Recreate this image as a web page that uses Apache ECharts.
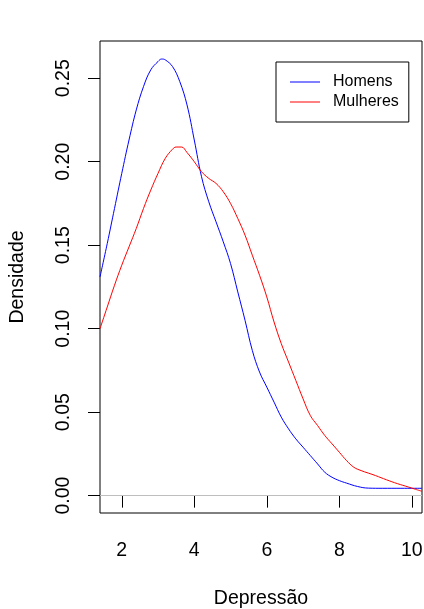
<!DOCTYPE html>
<html>
<head>
<meta charset="utf-8">
<script src="https://cdn.jsdelivr.net/npm/echarts@6/dist/echarts.min.js"></script>
<style>
  html, body { margin: 0; padding: 0; background: #fff; }
  #chart { width: 424px; height: 609px; }
</style>
</head>
<body>
<div id="chart"></div>
<script>
// Kernel density estimates of depression scores by sex
const seriesNames = ['Homens', 'Mulheres'];
const seriesColors = ['#0000FF', '#FF0000'];

// Homens: [depression score, density]
const homensX = [1.40, 1.60, 1.80, 2.00, 2.20, 2.40, 2.60, 2.80, 3.00, 3.10, 3.20, 3.40, 3.60, 3.80, 4.00, 4.20, 4.40, 4.60, 4.80, 5.00, 5.20, 5.40, 5.60, 5.80, 6.00, 6.20, 6.40, 6.60, 6.80, 7.00, 7.20, 7.40, 7.60, 7.80, 8.00, 8.20, 8.50, 8.80, 9.20, 9.70, 10.28];
const homensY = [0.131, 0.151, 0.172, 0.193, 0.213, 0.231, 0.245, 0.255, 0.2600, 0.2615, 0.2610, 0.257, 0.248, 0.234, 0.213, 0.191, 0.176, 0.164, 0.152, 0.139, 0.122, 0.105, 0.087, 0.074, 0.065, 0.056, 0.047, 0.040, 0.034, 0.029, 0.024, 0.019, 0.014, 0.011, 0.009, 0.0075, 0.0055, 0.0045, 0.0044, 0.0044, 0.0044];

// Mulheres: [depression score, density]
const mulheresX = [1.40, 1.60, 1.80, 2.00, 2.20, 2.40, 2.60, 2.80, 3.00, 3.20, 3.40, 3.50, 3.65, 3.80, 4.00, 4.20, 4.40, 4.60, 4.80, 5.00, 5.20, 5.40, 5.60, 5.80, 6.00, 6.20, 6.40, 6.60, 6.80, 7.00, 7.20, 7.40, 7.60, 7.80, 8.00, 8.20, 8.40, 8.60, 8.80, 9.00, 9.30, 9.60, 9.90, 10.10, 10.28];
const mulheresY = [0.100, 0.113, 0.126, 0.138, 0.149, 0.160, 0.172, 0.183, 0.193, 0.202, 0.2075, 0.2088, 0.2088, 0.2055, 0.200, 0.194, 0.190, 0.187, 0.182, 0.175, 0.166, 0.156, 0.144, 0.132, 0.119, 0.104, 0.091, 0.080, 0.069, 0.058, 0.048, 0.042, 0.036, 0.031, 0.026, 0.021, 0.017, 0.0150, 0.0135, 0.012, 0.0095, 0.0072, 0.0052, 0.0038, 0.0026];

// Axis ticks
const xTicks = [2, 4, 6, 8, 10];
const yTicks = [0, 0.05, 0.10, 0.15, 0.20, 0.25];

const xTitle = 'Depressão';
const yTitle = 'Densidade';

const FONT = 'Liberation Sans, Arial, sans-serif';

const zip = (xs, ys) => xs.map((x, i) => [x, ys[i]]);

const chart = echarts.init(document.getElementById('chart'), null, { renderer: 'canvas' });

chart.setOption({
  backgroundColor: '#ffffff',
  animation: false,
  grid: {
    left: 100, right: 2, top: 41, bottom: 96,
    outerBoundsMode: 'none', containLabel: false,
    show: true, borderColor: '#000', borderWidth: 1, backgroundColor: 'transparent'
  },
  legend: {
    orient: 'vertical',
    left: 276, top: 62,
    data: seriesNames,
    icon: 'rect',
    itemWidth: 30, itemHeight: 1,
    itemGap: 4,
    padding: [12, 10, 12, 14],
    borderColor: '#000', borderWidth: 1,
    backgroundColor: '#fff',
    textStyle: { fontFamily: FONT, fontSize: 16, color: '#000', lineHeight: 16, padding: [0, 0, 0, 8] }
  },
  xAxis: {
    type: 'value',
    min: 1.40, max: 10.28,
    name: xTitle,
    nameLocation: 'middle',
    nameGap: 76,
    nameTextStyle: { fontFamily: FONT, fontSize: 19.5, color: '#000' },
    axisLine: { show: false },
    axisTick: { show: true, inside: false, length: 12, customValues: xTicks, lineStyle: { color: '#000', width: 1 } },
    axisLabel: { customValues: xTicks, margin: 28, fontFamily: FONT, fontSize: 19.5, color: '#000' },
    splitLine: { show: false }
  },
  yAxis: {
    type: 'value',
    min: -0.0104, max: 0.2723,
    name: yTitle,
    nameLocation: 'middle',
    nameGap: 72,
    nameRotate: 90,
    nameTextStyle: { fontFamily: FONT, fontSize: 19.5, color: '#000' },
    axisLine: { show: false },
    axisTick: { show: true, inside: false, length: 12, customValues: yTicks, lineStyle: { color: '#000', width: 1 } },
    axisLabel: {
      customValues: yTicks, rotate: 90, margin: 26,
      fontFamily: FONT, fontSize: 19.5, color: '#000',
      formatter: v => v.toFixed(2)
    },
    splitLine: { show: false }
  },
  series: [
    {
      name: seriesNames[0], type: 'line', data: zip(homensX, homensY),
      smooth: 0.4, showSymbol: false, symbol: 'none',
      color: seriesColors[0], lineStyle: { color: seriesColors[0], width: 1 },
      markLine: {
        silent: true, symbol: 'none', label: { show: false },
        lineStyle: { color: '#BEBEBE', type: 'solid', width: 1 },
        data: [{ yAxis: 0 }]
      },
      z: 3
    },
    {
      name: seriesNames[1], type: 'line', data: zip(mulheresX, mulheresY),
      smooth: 0.4, showSymbol: false, symbol: 'none',
      color: seriesColors[1], lineStyle: { color: seriesColors[1], width: 1 },
      z: 3
    }
  ]
});
</script>
</body>
</html>
